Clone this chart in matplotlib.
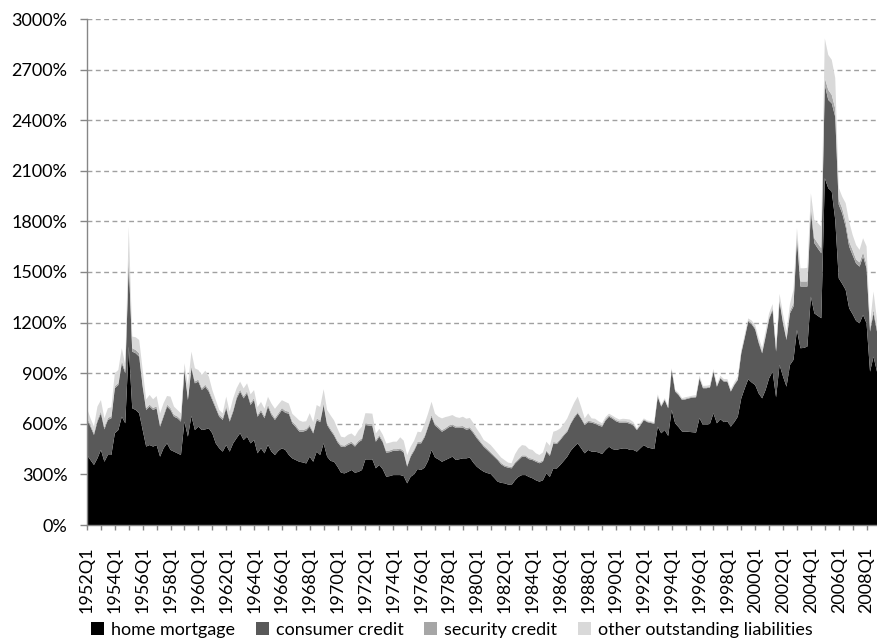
import numpy as np
import matplotlib
matplotlib.use("Agg")
import matplotlib.pyplot as plt
from matplotlib.patches import Patch

plt.rcParams['font.family'] = ['Lato', 'DejaVu Sans']

start_year = 1952
n_quarters = 228
quarters = [f"{start_year + k // 4}Q{k % 4 + 1}" for k in range(n_quarters)]

home_mortgage = [
    415, 385, 356, 395, 445, 375, 415, 415, 544, 563, 642, 603,
    1058, 692, 682, 662, 563, 465, 474, 465, 474, 405, 455, 484,
    445, 435, 425, 415, 613, 524, 646, 563, 583, 563, 567, 573,
    544, 484, 455, 435, 474, 435, 484, 515, 544, 504, 524, 484,
    504, 425, 455, 425, 475, 435, 415, 440, 455, 445, 415, 395,
    385, 375, 371, 365, 405, 375, 435, 415, 484, 405, 380, 375,
    345, 310, 306, 315, 326, 310, 315, 326, 389, 389, 389, 336,
    356, 330, 286, 290, 296, 296, 296, 290, 247, 286, 300, 332,
    326, 340, 380, 445, 400, 389, 375, 385, 395, 405, 385, 390,
    395, 395, 400, 370, 346, 330, 316, 308, 302, 280, 257, 250,
    247, 240, 237, 265, 286, 296, 296, 285, 277, 265, 257, 265,
    306, 285, 336, 335, 356, 380, 405, 440, 464, 484, 455, 425,
    445, 435, 435, 430, 421, 445, 464, 450, 445, 450, 454, 454,
    445, 445, 435, 455, 474, 460, 455, 450, 583, 544, 563, 528,
    682, 603, 580, 554, 554, 552, 550, 548, 633, 593, 593, 600,
    662, 603, 627, 610, 615, 583, 610, 642, 751, 810, 864, 845,
    830, 780, 751, 801, 870, 909, 757, 949, 880, 820, 949, 979,
    1157, 1048, 1050, 1058, 1354, 1255, 1240, 1226, 2056, 1997, 1977, 1809,
    1463, 1430, 1394, 1285, 1250, 1210, 1196, 1245, 1196, 909, 998, 909,
]

consumer_credit = [
    208, 198, 178, 218, 217, 192, 208, 218, 267, 267, 317, 297,
    494, 336, 336, 336, 257, 217, 228, 217, 218, 178, 187, 218,
    237, 207, 208, 198, 306, 217, 283, 277, 267, 238, 253, 218,
    197, 208, 187, 188, 218, 178, 188, 235, 247, 247, 257, 228,
    237, 217, 217, 208, 227, 217, 208, 212, 227, 220, 245, 208,
    195, 179, 182, 195, 178, 168, 187, 195, 227, 188, 180, 155,
    145, 154, 156, 160, 158, 155, 175, 178, 204, 201, 198, 158,
    168, 160, 143, 142, 144, 144, 148, 140, 99, 119, 140, 152,
    158, 180, 200, 197, 190, 184, 178, 180, 185, 182, 190, 185,
    182, 170, 170, 175, 169, 160, 148, 137, 123, 125, 128, 110,
    99, 100, 99, 100, 99, 109, 109, 105, 108, 110, 109, 110,
    129, 125, 148, 145, 148, 150, 148, 160, 171, 178, 175, 168,
    165, 172, 165, 160, 162, 175, 178, 180, 170, 157, 153, 153,
    155, 145, 128, 135, 148, 150, 150, 150, 178, 158, 178, 164,
    237, 188, 190, 187, 191, 199, 205, 209, 237, 218, 218, 215,
    247, 217, 243, 240, 235, 208, 220, 218, 267, 300, 342, 345,
    330, 300, 267, 316, 350, 366, 271, 376, 316, 277, 306, 316,
    543, 366, 364, 356, 504, 416, 400, 385, 554, 523, 523, 611,
    437, 418, 375, 366, 350, 340, 336, 347, 326, 238, 257, 238,
]

security_credit = [
    12, 12, 12, 12, 12, 12, 12, 12, 12, 12, 15, 15,
    40, 20, 20, 20, 12, 12, 12, 12, 12, 12, 12, 12,
    12, 12, 11, 12, 13, 12, 12, 12, 12, 11, 12, 12,
    12, 12, 11, 12, 12, 12, 12, 13, 12, 12, 12, 12,
    12, 11, 12, 12, 12, 12, 11, 12, 12, 12, 12, 11,
    12, 10, 10, 10, 11, 10, 10, 10, 11, 10, 10, 10,
    10, 10, 9, 10, 10, 10, 10, 10, 11, 10, 10, 10,
    10, 10, 9, 10, 10, 10, 10, 10, 9, 10, 10, 10,
    10, 10, 11, 10, 10, 10, 10, 10, 10, 10, 10, 10,
    10, 10, 10, 10, 10, 8, 8, 8, 8, 8, 8, 8,
    8, 8, 8, 8, 8, 8, 8, 8, 8, 8, 8, 8,
    8, 8, 8, 8, 8, 8, 8, 8, 9, 8, 8, 8,
    8, 8, 8, 8, 8, 8, 8, 8, 8, 8, 8, 8,
    8, 8, 5, 5, 5, 5, 5, 5, 5, 5, 5, 5,
    5, 5, 5, 5, 5, 5, 5, 5, 5, 5, 5, 5,
    5, 5, 5, 5, 5, 5, 5, 5, 8, 8, 8, 8,
    8, 10, 10, 10, 10, 10, 10, 10, 10, 10, 15, 20,
    20, 30, 30, 30, 30, 30, 30, 30, 40, 60, 50, 50,
    30, 30, 30, 30, 30, 25, 25, 25, 25, 20, 20, 20,
]

other_liabilities = [
    57, 38, 37, 77, 67, 54, 57, 53, 77, 77, 74, 34,
    177, 69, 75, 79, 87, 51, 57, 51, 61, 67, 68, 51,
    67, 48, 38, 37, 27, 77, 87, 77, 57, 78, 83, 77,
    48, 37, 29, 27, 57, 47, 67, 48, 47, 47, 47, 51,
    47, 46, 46, 45, 46, 56, 55, 51, 46, 53, 48, 45,
    48, 56, 49, 45, 69, 57, 79, 80, 83, 79, 80, 80,
    70, 50, 48, 50, 49, 50, 60, 69, 59, 62, 63, 39,
    36, 35, 45, 46, 44, 44, 66, 60, 59, 49, 50, 59,
    56, 70, 70, 79, 60, 59, 69, 65, 55, 55, 55, 50,
    55, 55, 55, 50, 45, 42, 32, 37, 41, 37, 32, 32,
    31, 22, 22, 47, 61, 61, 57, 52, 52, 42, 41, 47,
    51, 52, 61, 72, 61, 62, 71, 72, 82, 91, 62, 31,
    44, 17, 22, 17, 12, 12, 10, 10, 12, 10, 15, 13,
    17, 12, 5, 10, 5, 5, 5, 5, 9, 8, 6, 8,
    6, 6, 7, 6, 8, 6, 7, 8, 10, 9, 10, 10,
    11, 10, 10, 10, 10, 9, 10, 15, 9, 12, 11, 14,
    17, 20, 22, 23, 25, 25, 22, 35, 44, 43, 40, 79,
    40, 78, 78, 81, 79, 108, 120, 128, 235, 207, 208, 180,
    70, 69, 109, 118, 90, 85, 74, 83, 105, 29, 109, 49,
]

series_names = ["home mortgage", "consumer credit", "security credit",
                "other outstanding liabilities"]
series_colors = ["#000000", "#595959", "#a6a6a6", "#d9d9d9"]
y_ticks = list(range(0, 3001, 300))

W, H = 878, 644
fig = plt.figure(figsize=(W / 100, H / 100), dpi=100)
ax = fig.add_axes([87 / W, 1 - 525 / H, 790 / W, 506 / H])

x = np.arange(n_quarters)
ax.stackplot(x, home_mortgage, consumer_credit, security_credit, other_liabilities,
             colors=series_colors, linewidth=0, zorder=2)

ax.set_xlim(0, n_quarters - 1)
ax.set_ylim(0, 3000)
ax.set_yticks(y_ticks)
ax.set_yticklabels([f"{v}%" for v in y_ticks])
ax.yaxis.grid(True, color="#a0a0a0", linestyle=(0, (3.5, 2.5)), linewidth=1.0, zorder=0)
ax.set_axisbelow(True)

ax.set_xticks(x[::8])
ax.set_xticklabels([quarters[k] for k in x[::8]], rotation=90)
ax.set_xticks(x[::4], minor=True)

for s in ["top", "right"]:
    ax.spines[s].set_visible(False)
for s in ["left", "bottom"]:
    ax.spines[s].set_color("#868686")
    ax.spines[s].set_linewidth(1.0)
    ax.spines[s].set_zorder(3)

ax.tick_params(axis="y", length=5, width=1, color="#868686", pad=9,
               labelsize=13, labelcolor="#000000")
ax.tick_params(axis="x", which="both", length=3.6, width=1, color="#868686",
               pad=12, labelsize=13, labelcolor="#000000")

handles = [Patch(facecolor=c, edgecolor="none") for c in series_colors]
fig.legend(handles, series_names, loc="center", bbox_to_anchor=(452 / W, 1 - 630 / H),
           ncol=4, frameon=False, handlelength=0.7, handleheight=0.7,
           handletextpad=0.4, columnspacing=1.15, fontsize=13, borderaxespad=0)

fig.savefig("out.png", dpi=100)
